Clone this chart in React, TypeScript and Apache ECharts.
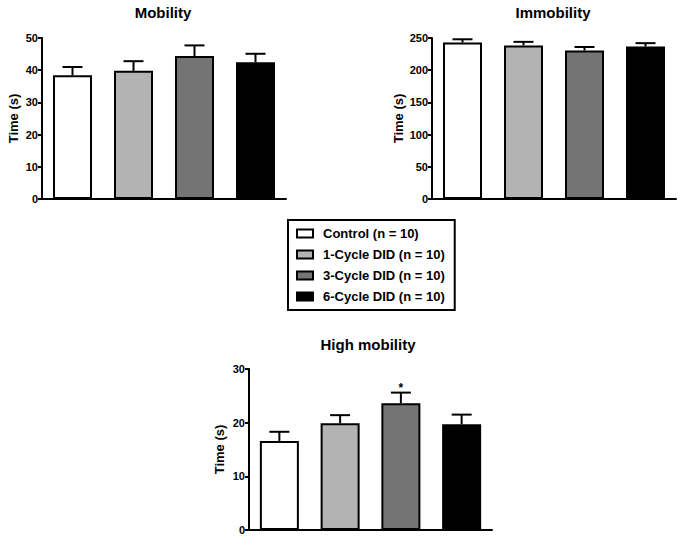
import React, { useEffect, useRef } from "react";
import * as echarts from "echarts";

const groups = ["Control (n = 10)", "1-Cycle DID (n = 10)", "3-Cycle DID (n = 10)", "6-Cycle DID (n = 10)"];
const groupColors = ["#ffffff", "#b3b3b3", "#747474", "#000000"];

const panelTitles = ["Mobility", "Immobility", "High mobility"];
const mobilityMean = [38.4, 39.8, 44.4, 42.5];
const mobilityUpper = [41.0, 42.8, 47.7, 45.1];
const immobilityMean = [243, 238.5, 230.5, 236.8];
const immobilityUpper = [248, 244, 236, 242];
const highMean = [16.6, 19.9, 23.6, 19.7];
const highUpper = [18.3, 21.4, 25.6, 21.5];
const highSig = ["", "", "*", ""];

const yMax = [50, 250, 30];
const yInterval = [10, 50, 10];

const FONT = "Liberation Sans, Arial, Helvetica, sans-serif";

export default function App() {
  const ref = useRef<HTMLDivElement>(null);
  useEffect(() => {
    if (!ref.current) return;
    const chart = echarts.init(ref.current, undefined, { renderer: "svg" });
    const means = [mobilityMean, immobilityMean, highMean];
    const uppers = [mobilityUpper, immobilityUpper, highUpper];
    const sigs = [["", "", "", ""], ["", "", "", ""], highSig];

    const grids = [
      { left: 42, top: 38, width: 244, height: 161 },
      { left: 432, top: 38, width: 244, height: 161 },
      { left: 249, top: 369, width: 243, height: 161 },
    ];
    const nameX = [13, 398, 219];
    const titlePos = [
      { x: 163, y: 5 },
      { x: 553, y: 5 },
      { x: 368, y: 337 },
    ];

    const series: any[] = [];
    means.forEach((m, p) => {
      groups.forEach((g, i) => {
        series.push({
          type: "bar",
          name: g,
          xAxisIndex: p,
          yAxisIndex: p,
          stack: "s" + p,
          barWidth: 39,
          data: m.map((v, j) => (j === i ? v : "-")),
          itemStyle: { color: groupColors[i], borderColor: "#000", borderWidth: 2 },
          z: 2,
        });
      });
      series.push({
        type: "custom",
        xAxisIndex: p,
        yAxisIndex: p,
        z: 3,
        data: m.map((v, j) => [j, v, uppers[p][j], sigs[p][j]]),
        renderItem: (params: any, api: any) => {
          const x = api.value(0);
          const lo = api.coord([x, api.value(1)]);
          const hi = api.coord([x, api.value(2)]);
          const sig = sigs[p][params.dataIndex];
          const children: any[] = [
            { type: "line", shape: { x1: lo[0], y1: lo[1], x2: hi[0], y2: hi[1] }, style: { stroke: "#000", lineWidth: 2 } },
            { type: "line", shape: { x1: hi[0] - 10, y1: hi[1], x2: hi[0] + 10, y2: hi[1] }, style: { stroke: "#000", lineWidth: 2 } },
          ];
          if (sig) {
            children.push({
              type: "text",
              style: { text: sig, x: hi[0], y: hi[1] - 5, align: "center", verticalAlign: "middle", fill: "#000", font: `bold 12px ${FONT}` },
            });
          }
          return { type: "group", children };
        },
      });
    });

    chart.setOption({
      animation: false,
      backgroundColor: "#fff",
      title: panelTitles.map((t, i) => ({
        text: t,
        left: titlePos[i].x,
        top: titlePos[i].y,
        padding: 0,
        textAlign: "center",
        textStyle: { fontFamily: FONT, fontWeight: "bold", fontSize: 15, color: "#000" },
      })),
      graphic: grids.map((g, i) => ({
        type: "text",
        x: nameX[i],
        y: g.top + g.height / 2,
        rotation: Math.PI / 2,
        style: {
          text: "Time (s)",
          align: "center",
          verticalAlign: "middle",
          fill: "#000000",
          font: `bold 13px ${FONT}`,
        },
      })),
      legend: {
        orient: "vertical",
        left: 288,
        top: 220,
        data: groups,
        icon: "rect",
        itemWidth: 16,
        itemHeight: 8,
        itemGap: 8,
        padding: [7, 10, 7, 8],
        borderColor: "#000",
        borderWidth: 2,
        selectedMode: false,
        textStyle: { fontFamily: FONT, fontWeight: "bold", fontSize: 13, color: "#000", padding: [0, 0, 0, 5] },
      },
      grid: grids.map((g) => ({ ...g })),
      xAxis: grids.map((_, i) => ({
        type: "category",
        gridIndex: i,
        data: groups,
        axisLine: { lineStyle: { color: "#000", width: 2 } },
        axisTick: { show: false },
        axisLabel: { show: false },
      })),
      yAxis: grids.map((_, i) => ({
        type: "value",
        gridIndex: i,
        min: 0,
        max: yMax[i],
        interval: yInterval[i],
        axisLine: { show: true, lineStyle: { color: "#000", width: 2 } },
        axisTick: { show: true, length: 4, lineStyle: { color: "#000", width: 2 } },
        axisLabel: { fontFamily: FONT, fontWeight: "bold", fontSize: 11, color: "#000", margin: 4 },
        splitLine: { show: false },
      })),
      series,
    });
    return () => chart.dispose();
  }, []);
  return <div ref={ref} style={{ position: "absolute", left: 0, top: 0, width: 682, height: 541 }} />;
}
